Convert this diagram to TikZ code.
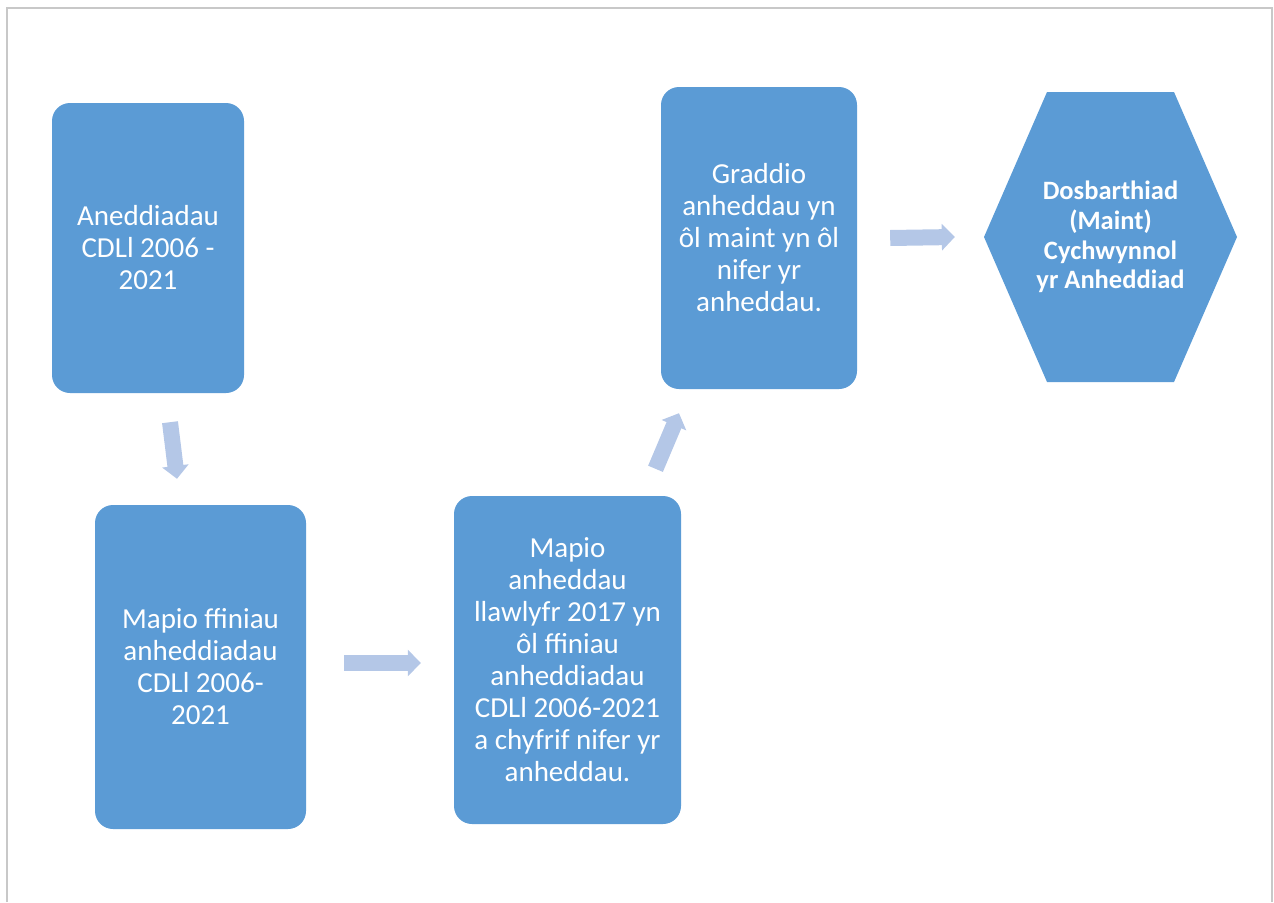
\documentclass[tikz,border=0pt]{standalone}
\usepackage{fontspec}
\setmainfont{Carlito}
\usepackage{tikz}
\usepackage{xcolor}
\usetikzlibrary{shapes, positioning, arrows.meta}

\definecolor{boxblue}{HTML}{5B9BD5}
\definecolor{arrowblue}{HTML}{B4C7E7}
\definecolor{framegray}{HTML}{C8C8C8}

\begin{document}
\begin{tikzpicture}[x=1pt, y=1pt,
        box/.style={fill=boxblue, rounded corners=18pt, text=white, align=center,
            inner sep=0pt, font=\fontsize{29}{32}\selectfont},
        hexbox/.style={minimum width=253pt, minimum height=290pt, text=white, align=center,
            inner sep=0pt, font=\bfseries\fontsize{26.5}{29.7}\selectfont,
            path picture={\fill[boxblue] (path picture bounding box.west)
                -- ([xshift=63pt]path picture bounding box.north west)
                -- ([xshift=-63pt]path picture bounding box.north east)
                -- (path picture bounding box.east)
                -- ([xshift=-63pt]path picture bounding box.south east)
                -- ([xshift=63pt]path picture bounding box.south west) -- cycle;}},
        flow/.style={draw=arrowblue, line width=16pt, -{Triangle[length=13pt, width=26pt]}}]
        \useasboundingbox (0,0) rectangle (1274,-902);
        \draw[framegray, line width=1.5pt] (7,-902) |- (1272,-8) -- (1272,-902);

        \node[box, minimum width=192pt, minimum height=290pt] (settle) at (148,-248)
            {Aneddiadau\\CDLl 2006 -\\2021};
        \node[box, minimum width=211pt, minimum height=324pt] (bounds) at (200.5,-667)
            {Mapio ffiniau\\anheddiadau\\CDLl 2006-\\2021};
        \node[box, minimum width=227pt, minimum height=328pt] (count) at (567.5,-660)
            {Mapio\\anheddau\\llawlyfr 2017 yn\\{\^o}l ffiniau\\anheddiadau\\CDLl 2006-2021\\a chyfrif nifer yr\\anheddau.};
        \node[box, minimum width=196pt, minimum height=302pt] (rank) at (759,-238)
            {Graddio\\anheddau yn\\{\^o}l maint yn {\^o}l\\nifer yr\\anheddau.};
        \node[hexbox] (class) at (1110.5,-237)
            {Dosbarthiad\\(Maint)\\Cychwynnol\\yr Anheddiad};

        \draw[flow] ([xshift=22pt, yshift=-29pt]settle.south) -- ([xshift=-23.5pt, yshift=26pt]bounds.north);
        \draw[flow] ([xshift=38pt, yshift=4pt]bounds.east) -- ([xshift=-33pt, yshift=-3pt]count.west);
        \draw[flow] ([xshift=88pt, yshift=27pt]count.north) -- ([xshift=-80pt, yshift=-24pt]rank.south);
        \draw[flow] ([xshift=33pt]rank.east) -- ([xshift=-29pt]class.west);
    \end{tikzpicture}
\end{document}
